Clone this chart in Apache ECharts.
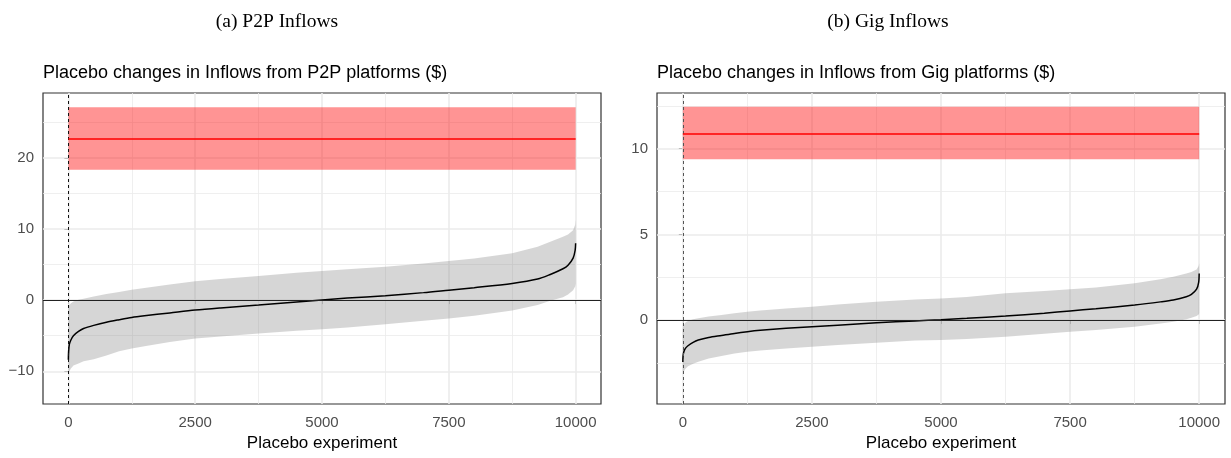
<!DOCTYPE html>
<html><head><meta charset="utf-8">
<script src="https://cdn.jsdelivr.net/npm/echarts@6/dist/echarts.min.js"></script>
<style>html,body{margin:0;padding:0;background:#fff}#c{width:1231px;height:458px}</style>
</head><body><div id="c"></div>
<script>
// ---------- data ----------
const captions = ['(a) P2P Inflows', '(b) Gig Inflows'];
const subtitles = ['Placebo changes in Inflows from P2P platforms ($)', 'Placebo changes in Inflows from Gig platforms ($)'];
const xAxisTitle = 'Placebo experiment';

const experimentX = [0, 5, 20, 50, 100, 200, 300, 500, 750, 1000, 1250, 1500, 2000, 2500, 3000, 3750, 4500, 5000, 5500, 6250, 7000, 7500, 8000, 8750, 9250, 9500, 9750, 9850, 9950, 9990, 10000];

const p2pEstimate = [-8.4, -7.2, -6.2, -5.6, -5.0, -4.4, -4.0, -3.55, -3.1, -2.75, -2.43, -2.2, -1.8, -1.4, -1.1, -0.7, -0.28, 0, 0.28, 0.62, 1.05, 1.4, 1.75, 2.34, 2.95, 3.6, 4.4, 4.9, 5.9, 7.0, 8.0];
const p2pUpper = [-1.2, -0.9, -0.7, -0.45, -0.2, 0.05, 0.2, 0.5, 0.85, 1.15, 1.45, 1.7, 2.2, 2.65, 2.95, 3.4, 3.85, 4.1, 4.35, 4.7, 5.15, 5.48, 5.85, 6.6, 7.5, 8.2, 8.9, 9.2, 9.8, 10.6, 11.3];
const p2pLower = [-10.7, -10.3, -10.0, -9.6, -9.2, -8.9, -8.6, -8.3, -7.8, -7.2, -6.8, -6.5, -5.9, -5.4, -5.1, -4.7, -4.3, -4.1, -3.85, -3.4, -2.9, -2.6, -2.2, -1.45, -0.7, -0.1, 0.4, 0.8, 1.4, 1.9, 2.3];

const gigEstimate = [-2.45, -2.1, -1.85, -1.65, -1.5, -1.3, -1.17, -1.02, -0.9, -0.78, -0.68, -0.6, -0.48, -0.39, -0.3, -0.16, -0.05, 0.02, 0.1, 0.23, 0.4, 0.53, 0.66, 0.88, 1.06, 1.17, 1.36, 1.5, 1.8, 2.2, 2.72];
const gigUpper = [-0.5, -0.4, -0.3, -0.15, -0.05, 0.05, 0.1, 0.2, 0.3, 0.4, 0.49, 0.55, 0.67, 0.78, 0.9, 1.07, 1.2, 1.26, 1.35, 1.56, 1.7, 1.79, 1.9, 2.14, 2.38, 2.53, 2.72, 2.8, 2.95, 3.15, 3.31];
const gigLower = [-3.2, -3.1, -3.0, -2.85, -2.7, -2.55, -2.43, -2.25, -2.1, -1.95, -1.85, -1.78, -1.66, -1.56, -1.45, -1.32, -1.2, -1.17, -1.1, -0.97, -0.8, -0.68, -0.58, -0.39, -0.2, -0.1, 0.05, 0.13, 0.23, 0.32, 0.39];

const p2pEffect = 22.65, p2pCiLow = 18.3, p2pCiHigh = 27.1;
const gigEffect = 10.86, gigCiLow = 9.38, gigCiHigh = 12.45;

const xTicks = [0, 2500, 5000, 7500, 10000];
const xMinor = [1250, 3750, 6250, 8750];
const xRange = [-500, 10500];
const p2pYTicks = [-10, 0, 10, 20];
const p2pYMinor = [-5, 5, 15, 25];
const p2pYRange = [-14.6, 29.1];
const gigYTicks = [0, 5, 10];
const gigYMinor = [-2.5, 2.5, 7.5, 12.5];
const gigYRange = [-4.9, 13.25];

// ---------- build ----------
const panels = [
  {est: p2pEstimate, up: p2pUpper, lo: p2pLower, eff: p2pEffect, ciLo: p2pCiLow, ciHi: p2pCiHigh,
   yTicks: p2pYTicks, yMinor: p2pYMinor, yRange: p2pYRange, left: 43, width: 558, dash: '#111'},
  {est: gigEstimate, up: gigUpper, lo: gigLower, eff: gigEffect, ciLo: gigCiLow, ciHi: gigCiHigh,
   yTicks: gigYTicks, yMinor: gigYMinor, yRange: gigYRange, left: 657, width: 568, dash: '#555'}
];
const captionCenters = [277, 888];

const fmt = v => v < 0 ? '\u2212' + Math.abs(v) : String(v);
const FONT = 'Liberation Sans, Arial, sans-serif';

const grids = [], xAxes = [], yAxes = [], series = [], titles = [];
panels.forEach((p, i) => {
  grids.push({left: p.left, top: 93, width: p.width, height: 311, show: true,
    borderColor: '#333333', borderWidth: 1.2, backgroundColor: '#ffffff', containLabel: false});
  xAxes.push({type: 'value', gridIndex: i, min: xRange[0], max: xRange[1],
    name: xAxisTitle, nameLocation: 'middle', nameGap: 31,
    nameTextStyle: {fontFamily: FONT, fontSize: 17, color: '#000'},
    axisLine: {show: false}, splitLine: {show: false},
    axisTick: {show: true, customValues: xTicks, length: 4, lineStyle: {color: '#333', width: 1}},
    axisLabel: {customValues: xTicks, formatter: fmt, fontFamily: FONT, fontSize: 15, color: '#4d4d4d', margin: 11}});
  yAxes.push({type: 'value', gridIndex: i, min: p.yRange[0], max: p.yRange[1],
    axisLine: {show: false}, splitLine: {show: false},
    axisTick: {show: true, customValues: p.yTicks, length: 4, lineStyle: {color: '#333', width: 1}},
    axisLabel: {customValues: p.yTicks, formatter: fmt, fontFamily: FONT, fontSize: 15, color: '#4d4d4d', margin: 9}});

  const gridLines = [];
  xTicks.forEach(v => gridLines.push({xAxis: v, lineStyle: {color: '#ebebeb', width: 1.6, type: 'solid'}}));
  xMinor.forEach(v => gridLines.push({xAxis: v, lineStyle: {color: '#ebebeb', width: 0.8, type: 'solid'}}));
  p.yTicks.forEach(v => gridLines.push({yAxis: v, lineStyle: {color: '#ebebeb', width: 1.6, type: 'solid'}}));
  p.yMinor.forEach(v => gridLines.push({yAxis: v, lineStyle: {color: '#ebebeb', width: 0.8, type: 'solid'}}));

  // ribbon (single polygon through the axes' scales) + gridlines + red CI band
  const ribbonRows = experimentX.map((x, k) => [x, p.lo[k], p.up[k]]);
  series.push({type: 'custom', xAxisIndex: i, yAxisIndex: i, z: 3, silent: true, animation: false,
    data: ribbonRows, encode: {x: 0, y: [1, 2]}, clip: true,
    renderItem: (params, api) => {
      if (params.dataIndex !== 0) return null;
      const top = ribbonRows.map(r => api.coord([r[0], r[2]]));
      const bot = ribbonRows.slice().reverse().map(r => api.coord([r[0], r[1]]));
      return {type: 'polygon', shape: {points: top.concat(bot)},
        style: {fill: 'rgba(127,127,127,0.32)', stroke: null}};
    },
    markLine: {silent: true, symbol: ['none', 'none'], z: 1, animation: false, label: {show: false}, data: gridLines},
    markArea: {silent: true, z: 2, animation: false, itemStyle: {color: 'rgba(255,0,0,0.42)'},
      data: [[{coord: [experimentX[0], p.ciLo]}, {coord: [experimentX[experimentX.length - 1], p.ciHi]}]]}});
  // estimates curve + reference lines
  series.push({type: 'line', xAxisIndex: i, yAxisIndex: i, z: 4,
    data: experimentX.map((x, k) => [x, p.est[k]]), smooth: 0.3,
    symbol: 'none', lineStyle: {color: '#000', width: 1.5}, silent: true, animation: false,
    markLine: {silent: true, symbol: ['none', 'none'], z: 5, animation: false, label: {show: false},
      data: [
        {yAxis: 0, lineStyle: {color: '#222', width: 1, type: 'solid'}},
        {xAxis: 0, lineStyle: {color: p.dash, width: 1, type: [3, 3]}},
        [{coord: [experimentX[0], p.eff], lineStyle: {color: '#ff0000', width: 1.6, type: 'solid'}},
         {coord: [experimentX[experimentX.length - 1], p.eff]}]
      ]}});

  titles.push({text: captions[i], left: captionCenters[i], top: 12, textAlign: 'center', padding: 0,
    textStyle: {fontFamily: 'Liberation Serif, Times New Roman, serif', fontSize: 19.5, fontWeight: 'normal', color: '#000'}});
  titles.push({text: subtitles[i], left: p.left, top: 64, padding: 0,
    textStyle: {fontFamily: FONT, fontSize: 18, fontWeight: 'normal', color: '#000'}});
});

const chart = echarts.init(document.getElementById('c'), null, {renderer: 'canvas'});
chart.setOption({animation: false, backgroundColor: '#ffffff', title: titles,
  grid: grids, xAxis: xAxes, yAxis: yAxes, series: series});
</script></body></html>
